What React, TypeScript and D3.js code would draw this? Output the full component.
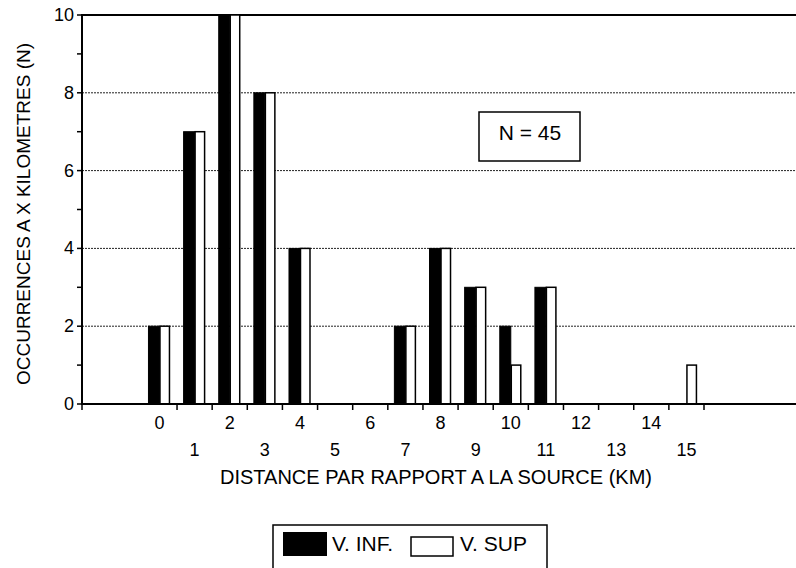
import React from "react";
import * as d3 from "d3";

const categories = [0, 1, 2, 3, 4, 5, 6, 7, 8, 9, 10, 11, 12, 13, 14, 15];
const vInf = [2, 7, 10, 8, 4, 0, 0, 2, 4, 3, 2, 3, 0, 0, 0, 0];
const vSup = [2, 7, 10, 8, 4, 0, 0, 2, 4, 3, 1, 3, 0, 0, 0, 1];
const yMajorTicks = [0, 2, 4, 6, 8, 10];
const yMinorTicks = [1, 3, 5, 7, 9];
const seriesNames = ["V. INF.", "V. SUP"];
const xTitle = "DISTANCE PAR RAPPORT A LA SOURCE (KM)";
const yTitle = "OCCURRENCES A X KILOMETRES (N)";
const annotation = "N = 45";

const W = 796;
const H = 568;
const left = 82;
const right = 796;
const top = 15;
const bottom = 404;
const font = "'Liberation Sans', Arial, Helvetica, sans-serif";

export default function App() {
  const x = d3.scaleLinear().domain([-0.5, 15.5]).range([141.9, 704]);
  const y = d3.scaleLinear().domain([0, 10]).range([bottom, top]);
  const barW = 11;
  const boundaries = categories.map((c) => c + 0.5);

  return (
    <svg
      width={W}
      height={H}
      style={{ position: "absolute", left: 0, top: 0, background: "#fff" }}
      fontFamily={font}
    >
      {/* grid */}
      {yMajorTicks
        .filter((t) => t > 0 && t < 10)
        .map((t) => (
          <line
            key={"g" + t}
            x1={left}
            x2={right}
            y1={y(t)}
            y2={y(t)}
            stroke="#222"
            strokeWidth={1}
            strokeDasharray="2,1"
          />
        ))}
      {/* top line */}
      <line x1={left} x2={right} y1={y(10)} y2={y(10)} stroke="#000" strokeWidth={2} />

      {/* bars */}
      {categories.map((c, i) => (
        <g key={"b" + c}>
          {vInf[i] > 0 && (
            <rect
              x={x(c) - barW}
              y={y(vInf[i])}
              width={barW}
              height={y(0) - y(vInf[i])}
              fill="#000"
              stroke="#000"
              strokeWidth={1}
            />
          )}
          {vSup[i] > 0 && (
            <rect
              x={x(c) + 0.5}
              y={y(vSup[i])}
              width={barW - 1.5}
              height={y(0) - y(vSup[i])}
              fill="#fff"
              stroke="#000"
              strokeWidth={1.5}
            />
          )}
        </g>
      ))}

      {/* axes */}
      <line x1={left} x2={left} y1={top - 1} y2={bottom + 1} stroke="#000" strokeWidth={2} />
      <line x1={left} x2={right} y1={bottom} y2={bottom} stroke="#000" strokeWidth={2} />

      {/* y ticks */}
      {yMajorTicks.map((t) => (
        <g key={"yt" + t}>
          <line x1={left - 5} x2={left} y1={y(t)} y2={y(t)} stroke="#000" strokeWidth={1.5} />
          <text
            x={left - 8}
            y={y(t)}
            textAnchor="end"
            dominantBaseline="central"
            fontSize={18}
            fill="#000"
          >
            {t}
          </text>
        </g>
      ))}
      {yMinorTicks.map((t) => (
        <line key={"ym" + t} x1={left - 5} x2={left} y1={y(t)} y2={y(t)} stroke="#000" strokeWidth={1.5} />
      ))}

      {/* x ticks */}
      <line x1={left} x2={left} y1={bottom} y2={bottom + 6} stroke="#000" strokeWidth={1.5} />
      {boundaries.map((b) => (
        <line key={"xt" + b} x1={x(b)} x2={x(b)} y1={bottom} y2={bottom + 6} stroke="#000" strokeWidth={1.5} />
      ))}
      {categories.map((c, i) => (
        <text
          key={"xl" + c}
          x={x(c)}
          y={i % 2 === 0 ? 423 : 450}
          textAnchor="middle"
          dominantBaseline="central"
          fontSize={18}
          fill="#000"
        >
          {c}
        </text>
      ))}

      {/* axis titles */}
      <text x={436} y={477} textAnchor="middle" dominantBaseline="central" fontSize={20} fill="#000">
        {xTitle}
      </text>
      <text
        transform={`translate(23,214) rotate(-90)`}
        textAnchor="middle"
        dominantBaseline="central"
        fontSize={19}
        fill="#000"
      >
        {yTitle}
      </text>

      {/* annotation */}
      <rect x={479} y={112} width={101} height={49} fill="#fff" stroke="#000" strokeWidth={1.5} />
      <text x={530} y={132} textAnchor="middle" dominantBaseline="central" fontSize={21} fill="#000">
        {annotation}
      </text>

      {/* legend */}
      <rect x={273} y={525} width={274} height={50} fill="#fff" stroke="#000" strokeWidth={1.5} />
      <rect x={283} y={532} width={44} height={24} fill="#000" />
      <text x={332} y={543} dominantBaseline="central" fontSize={21} fill="#000">
        {seriesNames[0]}
      </text>
      <rect x={411} y={537} width={42} height={19} fill="#fff" stroke="#000" strokeWidth={1.5} />
      <text x={460} y={543} dominantBaseline="central" fontSize={21} fill="#000">
        {seriesNames[1]}
      </text>
    </svg>
  );
}
